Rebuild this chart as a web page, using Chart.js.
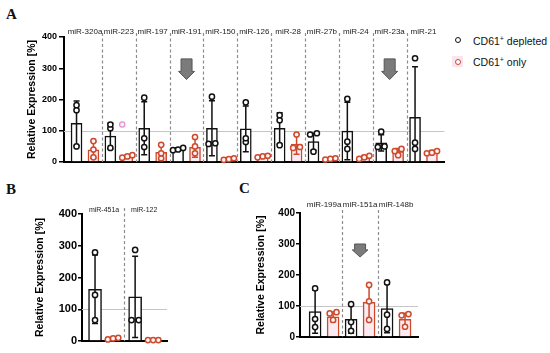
<!DOCTYPE html>
<html>
<head>
<meta charset="utf-8">
<script src="https://cdn.jsdelivr.net/npm/chart.js@4.4.1/dist/chart.umd.min.js"></script>
<style>
body{margin:0;background:#fff;width:550px;height:353px;position:relative;overflow:hidden;font-family:"Liberation Sans",Arial,sans-serif}
canvas{position:absolute}
.letter{position:absolute;font-family:"Liberation Serif","Times New Roman",serif;font-weight:bold;font-size:15px;color:#111;line-height:1}
.leg{position:absolute;font-size:10.5px;color:#111;line-height:1;white-space:nowrap}
.leg sup{font-size:7px;vertical-align:0;position:relative;top:-4px}
.dot{position:absolute;width:4px;height:4px;border-radius:50%;border:1.5px solid #111;background:#fff}
</style>
</head>
<body>
<div class="letter" style="left:6px;top:7px">A</div>
<div class="letter" style="left:6px;top:182px">B</div>
<div class="letter" style="left:239px;top:181px">C</div>

<div style="position:absolute;left:452px;top:56px;width:11px;height:11px;background:#fbe3f0"></div>
<div class="dot" style="left:454.5px;top:36.5px"></div>
<div class="dot" style="left:454.5px;top:58.5px;border-color:#cc4a2a"></div>
<div class="leg" style="left:473px;top:36px">CD61<sup>+</sup> depleted</div>
<div class="leg" style="left:473px;top:57px">CD61<sup>+</sup> only</div>

<canvas id="chartA" width="450" height="170" style="left:0;top:0"></canvas>
<canvas id="chartB" width="175" height="175" style="left:0;top:175px"></canvas>
<canvas id="chartC" width="200" height="175" style="left:225px;top:175px"></canvas>

<script>
// panel A
const groupsA = ['miR-320a','miR-223','miR-197','miR-191','miR-150','miR-126','miR-28','miR-27b','miR-24','miR-23a','miR-21'];
const depletedMeanA = [124, 83, 108, 41, 108, 106, 108, 65, 99, 61, 143];
const depletedSdA = [71, 41, 85, 5, 88, 73, 50, 27, 92, 26, 162];
const depletedPtsA = [[182,166,50],[120,108,45],[206,76,48],[45,40,38],[209,60,58],[191,76,64],[150,134,54],[92,88,33],[202,65,42],[97,50,48],[332,62,42]];
const onlyMeanA = [39, 18, 31, 47, 9, 18, 57, 10, 15, 33, 32];
const onlySdA = [27, 4, 24, 32, 3, 4, 32, 3, 6, 10, 5];
const onlyPtsA = [[67,40,15],[14,18,22],[55,28,12],[80,50,28],[7,9,12],[15,18,20],[88,48,45],[8,10,12],[10,15,20],[42,35,22],[35,30,28]];
const excludedA = [null, 120, null, null, null, null, null, null, null, null, null];

// panel B
const groupsB = ['miR-451a','miR-122'];
const depletedMeanB = [163, 139];
const depletedSdB = [108, 128];
const depletedPtsB = [[279,145,66],[287,66,66]];
const onlyMeanB = [8, 3];
const onlySdB = [3, 1];
const onlyPtsB = [[5,10,8],[3,3,3]];

// panel C
const groupsC = ['miR-199a','miR-151a','miR-148b'];
const depletedMeanC = [82, 57, 92];
const depletedSdC = [70, 45, 78];
const depletedPtsC = [[157,58,32],[106,48,20],[176,72,26]];
const onlyMeanC = [65, 112, 57];
const onlySdC = [16, 56, 20];
const onlyPtsC = [[80,76,55],[168,115,55],[74,70,33]];

const BLACK = '#111';
const RED = '#cc4a2a';
const FONT = "'Liberation Sans', Arial, sans-serif";

// spread points sideways when they would overlap (like a beeswarm)
function swarm(values, center, thr, step, span) {
  const idx = values.map((v, i) => i).sort((p, q) => values[p] - values[q]);
  const out = [];
  let cluster = [idx[0]];
  const flush = () => {
    const k = cluster.length;
    const gap = k > 1 ? Math.min(step, span / (k - 1)) : 0;
    cluster.forEach((n, j) => out.push({x: center + (j - (k - 1) / 2) * gap, y: values[n]}));
  };
  for (let n = 1; n < idx.length; n++) {
    if (values[idx[n]] - values[idx[n - 1]] < thr) cluster.push(idx[n]);
    else { flush(); cluster = [idx[n]]; }
  }
  flush();
  return out;
}

const extras = {
  id: 'extras',
  beforeDatasetsDraw(chart, args, o) {
    const {ctx, chartArea: a, scales: {x, y}} = chart;
    ctx.save();
    const y100 = Math.round(y.getPixelForValue(100)) + 0.5;
    ctx.strokeStyle = '#c6c6c6';
    ctx.lineWidth = 1;
    ctx.beginPath(); ctx.moveTo(a.left, y100); ctx.lineTo(a.right, y100); ctx.stroke();
    ctx.strokeStyle = '#8c8c8c';
    ctx.lineWidth = 1.2;
    ctx.setLineDash([3, 2.5]);
    for (let i = 0; i < o.labels.length - 1; i++) {
      const px = Math.round(x.getPixelForValue(i + 0.5)) + 0.5;
      ctx.beginPath(); ctx.moveTo(px, a.top - o.sepRise); ctx.lineTo(px, a.bottom); ctx.stroke();
    }
    ctx.setLineDash([]);
    ctx.fillStyle = '#222';
    ctx.font = o.labelFont;
    ctx.textAlign = 'center';
    ctx.textBaseline = 'middle';
    o.labels.forEach((t, i) => ctx.fillText(t, x.getPixelForValue(i), a.top - o.labelRise));
    ctx.restore();
  },
  afterDatasetDraw(chart, args) {
    const ds = chart.data.datasets[args.index];
    if (!ds.sd) return;
    const {ctx, scales: {x, y}} = chart;
    ctx.save();
    ctx.strokeStyle = ds.borderColor;
    ctx.lineWidth = 1.5;
    ds.data.forEach((d, i) => {
      const px = x.getPixelForValue(d.x);
      const top = y.getPixelForValue(d.y + ds.sd[i]);
      const bot = y.getPixelForValue(Math.max(0, d.y - ds.sd[i]));
      ctx.beginPath();
      ctx.moveTo(px, top); ctx.lineTo(px, bot);
      ctx.moveTo(px - 3, top); ctx.lineTo(px + 3, top);
      if (d.y - ds.sd[i] > 0) { ctx.moveTo(px - 3, bot); ctx.lineTo(px + 3, bot); }
      ctx.stroke();
    });
    ctx.restore();
  },
  afterDraw(chart, args, o) {
    const {ctx, scales: {x, y}} = chart;
    ctx.save();
    ctx.fillStyle = '#7b7b7b';
    ctx.strokeStyle = '#555';
    ctx.lineWidth = 1;
    (o.arrows || []).forEach(ar => {
      const cx = x.getPixelForValue(ar.i);
      const t = y.getPixelForValue(ar.top), n = y.getPixelForValue(ar.neck), p = y.getPixelForValue(ar.tip);
      ctx.beginPath();
      ctx.moveTo(cx - ar.shaft, t); ctx.lineTo(cx + ar.shaft, t); ctx.lineTo(cx + ar.shaft, n);
      ctx.lineTo(cx + ar.head, n); ctx.lineTo(cx, p); ctx.lineTo(cx - ar.head, n);
      ctx.lineTo(cx - ar.shaft, n); ctx.closePath();
      ctx.fill(); ctx.stroke();
    });
    ctx.restore();
  }
};

function panel(id, c) {
  const depPts = c.depPts.flatMap((v, i) => swarm(v, i - c.off, c.thr, c.step, c.span));
  const onlyPts = c.onlyPts.flatMap((v, i) => swarm(v, i + c.off, c.thr, c.step, c.span));
  const datasets = [
    {type: 'scatter', data: depPts, pointRadius: c.r, borderColor: BLACK, backgroundColor: '#fff', borderWidth: 1.5, clip: false},
    {type: 'scatter', data: onlyPts, pointRadius: c.r, borderColor: RED, backgroundColor: '#fff4f8', borderWidth: 1.5, clip: false},
    {type: 'bar', data: c.depMean.map((m, i) => ({x: i - c.off, y: m})), sd: c.depSd,
     backgroundColor: '#fff', borderColor: BLACK, borderWidth: 1.5, grouped: false,
     barPercentage: 1, categoryPercentage: 1, maxBarThickness: c.bw},
    {type: 'bar', data: c.onlyMean.map((m, i) => ({x: i + c.off, y: m})), sd: c.onlySd,
     backgroundColor: '#fdebf4', borderColor: RED, borderWidth: 1.5, grouped: false,
     barPercentage: 1, categoryPercentage: 1, maxBarThickness: c.bw}
  ];
  if (c.excluded) {
    const ex = c.excluded.map((v, i) => v === null ? null : {x: i + c.off - 0.15, y: v}).filter(Boolean);
    datasets.unshift({type: 'scatter', data: ex, pointRadius: c.r, borderColor: '#f08ac8', backgroundColor: '#e6f6fb', borderWidth: 1.2, clip: false});
  }
  return new Chart(document.getElementById(id), {
    type: 'bar',
    data: {datasets},
    plugins: [extras],
    options: {
      responsive: false,
      animation: false,
      layout: {padding: c.pad},
      plugins: {
        legend: {display: false},
        tooltip: {enabled: false},
        extras: {labels: c.labels, labelFont: c.labelFont, labelRise: c.labelRise, sepRise: c.sepRise, arrows: c.arrows}
      },
      scales: {
        x: {
          type: 'linear', min: c.min, max: c.max, offset: false,
          grid: {display: false},
          ticks: {display: false},
          border: {display: true, color: '#000', width: 2},
          afterFit: s => { s.height = 0; }
        },
        y: {
          min: 0, max: 400,
          ticks: {stepSize: 100, color: '#000', padding: c.tickPad, font: {family: FONT, weight: 'bold', size: c.tickFont}},
          grid: {drawOnChartArea: false, color: '#000', lineWidth: 1.5, tickLength: c.tickLen},
          border: {color: '#000', width: 2},
          title: {display: true, text: 'Relative Expression [%]', color: '#000', padding: 0,
                  font: {family: FONT, weight: 'bold', size: 10.5}},
          afterFit: s => { s.width = c.yW; }
        }
      }
    }
  });
}

panel('chartA', {
  labels: groupsA, depMean: depletedMeanA, depSd: depletedSdA, depPts: depletedPtsA,
  onlyMean: onlyMeanA, onlySd: onlySdA, onlyPts: onlyPtsA, excluded: excludedA,
  min: -0.62, max: 10.62, off: 0.25, bw: 11, r: 2.6, thr: 12, step: 0.2, span: 0.3,
  pad: {left: 26, top: 37, right: 3, bottom: 8}, yW: 38,
  tickFont: 9, tickLen: 5, tickPad: 2,
  labelFont: '8px ' + FONT, labelRise: 5, sepRise: 4,
  arrows: [{i: 3, top: 330, neck: 290, tip: 264, shaft: 5.5, head: 8},
           {i: 9, top: 330, neck: 290, tip: 264, shaft: 5.5, head: 8}]
});

panel('chartB', {
  labels: groupsB, depMean: depletedMeanB, depSd: depletedSdB, depPts: depletedPtsB,
  onlyMean: onlyMeanB, onlySd: onlySdB, onlyPts: onlyPtsB,
  min: -0.55, max: 1.57, off: 0.225, bw: 13, r: 2.6, thr: 12, step: 0.18, span: 0.26,
  pad: {left: 34, top: 39, right: 8, bottom: 9}, yW: 48,
  tickFont: 11, tickLen: 4, tickPad: 1,
  labelFont: '7px ' + FONT, labelRise: 4, sepRise: 6
});

panel('chartC', {
  labels: groupsC, depMean: depletedMeanC, depSd: depletedSdC, depPts: depletedPtsC,
  onlyMean: onlyMeanC, onlySd: onlySdC, onlyPts: onlyPtsC,
  min: -0.67, max: 2.61, off: 0.25, bw: 12, r: 2.6, thr: 12, step: 0.19, span: 0.28,
  pad: {left: 30, top: 38, right: 7, bottom: 13}, yW: 45,
  tickFont: 10, tickLen: 4, tickPad: 1,
  labelFont: '8px ' + FONT, labelRise: 8, sepRise: 3,
  arrows: [{i: 1, top: 300, neck: 281, tip: 258, shaft: 5.5, head: 7.8}]
});
</script>
</body>
</html>
